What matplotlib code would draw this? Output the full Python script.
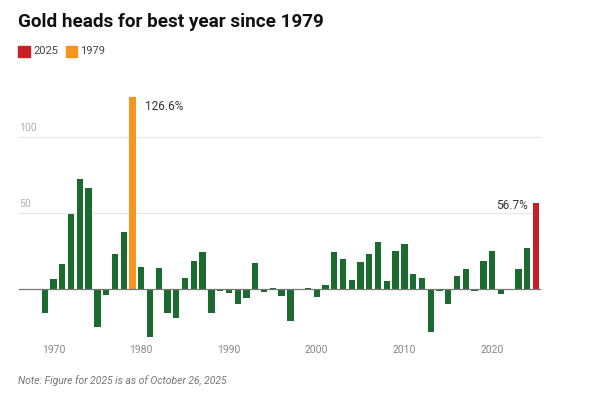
import numpy as np
import matplotlib.pyplot as plt

plt.rcParams['font.family'] = ['Roboto', 'DejaVu Sans']

# annual gold return, %
years = list(range(1969, 2026))
returns = [
    -15.6, 6.4, 16.7, 49.0, 72.4, 66.4, -24.8, -4.0, 22.8, 37.3,   # 1969-1978
    126.6, 14.7, -31.4, 14.0, -16.0, -19.0, 7.0, 18.4, 24.6, -15.6,  # 1979-1988
    -1.3, -2.4, -9.6, -5.9, 17.3, -2.0, 0.9, -4.6, -21.3, -0.4,    # 1989-1998
    0.4, -5.0, 2.4, 24.6, 19.5, 5.7, 18.0, 23.0, 31.0, 5.5,        # 1999-2008
    24.8, 29.6, 10.1, 7.0, -28.0, -1.5, -10.1, 8.3, 12.9, -1.1,    # 2009-2018
    18.2, 25.2, -3.3, -0.3, 12.9, 27.2, 56.7,                      # 2019-2025
]
yticks = [50, 100]
xticks = [1970, 1980, 1990, 2000, 2010, 2020]

green = '#1c6b2e'
orange = '#f7941d'
red = '#c62026'

colors = []
for y in years:
    if y == 2025:
        colors.append(red)
    elif y == 1979:
        colors.append(orange)
    else:
        colors.append(green)

fig = plt.figure(figsize=(6.02, 3.93), dpi=100)
ax = fig.add_axes([0.0316, 0.1293, 0.8671, 0.6382])

for v in yticks:
    ax.axhline(v, color='#e8e8e8', lw=0.9, zorder=0)
    ax.text(1966.1, v + 2.5, str(v), color='#b0b0b0', fontsize=7.5, va='bottom', ha='left')

ax.bar(years, returns, width=0.72, color=colors, zorder=2)
ax.axhline(0, color='#777777', lw=0.9, zorder=3)

ax.set_xlim(1966.07, 2025.57)
ax.set_ylim(-35, 130)
ax.set_yticks([])
ax.set_xticks(xticks)
ax.tick_params(axis='x', length=0, pad=2, labelsize=7.5, labelcolor='#888888')
for s in ax.spines.values():
    s.set_visible(False)

ax.annotate('126.6%', xy=(1979, 126.6), xytext=(9, -7), textcoords='offset points',
            fontsize=8.5, color='#333333', va='center', ha='left')
ax.annotate('56.7%', xy=(2025, 56.7), xytext=(-6, -2), textcoords='offset points',
            fontsize=8.5, color='#333333', va='center', ha='right')

fig.text(0.03, 0.944, 'Gold heads for best year since 1979', fontsize=13.6,
         fontweight='bold', color='#111111', va='center', ha='left')

# legend
fig.patches.append(plt.Rectangle((18 / 602, 1 - 57 / 393), 12 / 602, 11 / 393,
                                 transform=fig.transFigure, color=red, figure=fig))
fig.text(33 / 602, 1 - 51.5 / 393, '2025', fontsize=8, color='#444444', va='center')
fig.patches.append(plt.Rectangle((66 / 602, 1 - 57 / 393), 11 / 602, 11 / 393,
                                 transform=fig.transFigure, color=orange, figure=fig))
fig.text(80 / 602, 1 - 51.5 / 393, '1979', fontsize=8, color='#444444', va='center')

fig.text(18 / 602, 1 - 381 / 393, 'Note: Figure for 2025 is as of October 26, 2025',
         fontsize=7.5, style='italic', color='#777777', va='center')

fig.savefig('out.png', dpi=100)
